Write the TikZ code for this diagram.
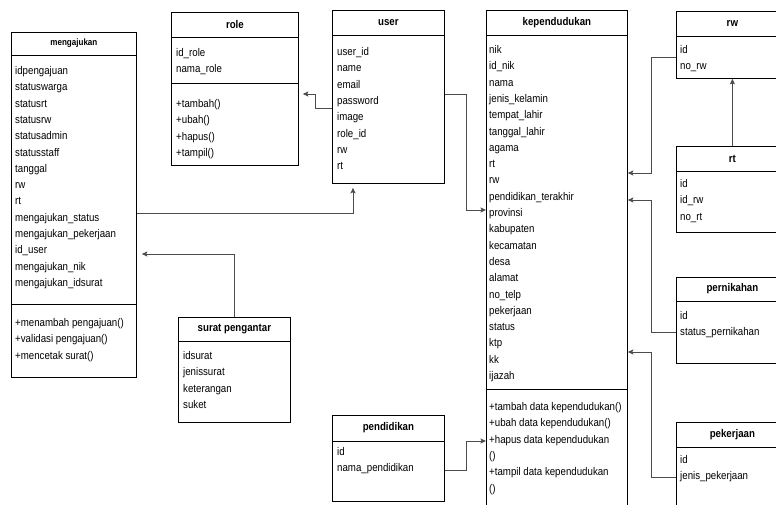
\documentclass[tikz,border=0pt]{standalone}
\usepackage{fontspec}
\setmainfont{Liberation Sans}[FakeStretch=0.87]
\usetikzlibrary{arrows.meta}
\newcommand{\rowfont}{\fontsize{11.15}{16.3}\selectfont}
% one text row after another, 16.3 apart
\newcommand{\classrows}[4]{%
  \foreach \txt [count=\i] in {#4}
    \node[row] (#1-\i) at (#2,{#3+16.3*(\i-1)}) {\txt};}
\begin{document}
\begin{tikzpicture}[x=1pt,y=-1pt,
  box/.style={draw,line width=0.8pt,inner sep=0pt,anchor=north west},
  sep/.style={line width=0.8pt},
  head/.style={inner sep=0pt,font=\rowfont\bfseries},
  row/.style={inner sep=0pt,anchor=base west,font=\rowfont},
  conn/.style={draw=black!70,line width=1pt,-{Stealth[length=5.5pt,width=5pt,inset=1pt]}}]
\useasboundingbox (0,0) rectangle (776,504);
\clip (0,0) rectangle (776,504);
% mengajukan
\node[box,minimum width=125,minimum height=345] (mengajukan) at (11,32) {};
\draw[sep] (mengajukan.west |- 0,55) -- (mengajukan.east |- 0,55);
\draw[sep] (mengajukan.west |- 0,304) -- (mengajukan.east |- 0,304);
\node[head,font=\fontsize{9.25}{11}\bfseries\selectfont] (mengajukan-h) at (mengajukan.north |- 0,43.5) {mengajukan};
\classrows{mengajukan}{15}{74.5}{idpengajuan,statuswarga,statusrt,statusrw,statusadmin,statusstaff,tanggal,rw,rt,mengajukan\_status,mengajukan\_pekerjaan,id\_user,mengajukan\_nik,mengajukan\_idsurat}
\classrows{mengajukan-m}{15}{326.5}{+menambah pengajuan(),+validasi pengajuan(),+mencetak surat()}
% role
\node[box,minimum width=127,minimum height=153] (role) at (171,12) {};
\draw[sep] (role.west |- 0,37) -- (role.east |- 0,37);
\draw[sep] (role.west |- 0,83) -- (role.east |- 0,83);
\node[head] (role-h) at (role.north |- 0,24.5) {role};
\classrows{role}{176}{56.5}{id\_role,nama\_role}
\classrows{role-m}{176}{107.5}{+tambah(),+ubah(),+hapus(),+tampil()}
% user
\node[box,minimum width=112,minimum height=173] (user) at (332,10) {};
\draw[sep] (user.west |- 0,35) -- (user.east |- 0,35);
\node[head] (user-h) at (user.north |- 0,22.5) {user};
\classrows{user}{337}{55.5}{user\_id,name,email,password,image,role\_id,rw,rt}
% kependudukan
\node[box,minimum width=141,minimum height=510] (kependudukan) at (486,10) {};
\draw[sep] (kependudukan.west |- 0,35) -- (kependudukan.east |- 0,35);
\draw[sep] (kependudukan.west |- 0,389) -- (kependudukan.east |- 0,389);
\node[head] (kependudukan-h) at (kependudukan.north |- 0,22.5) {kependudukan};
\classrows{kependudukan}{489}{53.5}{nik,id\_nik,nama,jenis\_kelamin,tempat\_lahir,tanggal\_lahir,agama,rt,rw,pendidikan\_terakhir,provinsi,kabupaten,kecamatan,desa,alamat,no\_telp,pekerjaan,status,ktp,kk,ijazah}
\classrows{kependudukan-m}{489}{410.5}{+tambah data kependudukan(),+ubah data kependudukan(),+hapus data kependudukan,(),+tampil data kependudukan,()}
% rw, rt, pernikahan, pekerjaan
\node[box,minimum width=112,minimum height=67] (rw) at (676,11) {};
\draw[sep] (rw.west |- 0,36) -- (rw.east |- 0,36);
\node[head] (rw-h) at (rw.north |- 0,23.5) {rw};
\classrows{rw}{680}{53.5}{id,no\_rw}
\node[box,minimum width=112,minimum height=86] (rt) at (676,146) {};
\draw[sep] (rt.west |- 0,171) -- (rt.east |- 0,171);
\node[head] (rt-h) at (rt.north |- 0,158.5) {rt};
\classrows{rt}{680}{187.5}{id,id\_rw,no\_rt}
\node[box,minimum width=112,minimum height=86] (pernikahan) at (676,277) {};
\draw[sep] (pernikahan.west |- 0,301) -- (pernikahan.east |- 0,301);
\node[head] (pernikahan-h) at (pernikahan.north |- 0,289) {pernikahan};
\classrows{pernikahan}{680}{319.5}{id,status\_pernikahan}
\node[box,minimum width=112,minimum height=90] (pekerjaan) at (676,422) {};
\draw[sep] (pekerjaan.west |- 0,447) -- (pekerjaan.east |- 0,447);
\node[head] (pekerjaan-h) at (pekerjaan.north |- 0,434.5) {pekerjaan};
\classrows{pekerjaan}{680}{463.5}{id,jenis\_pekerjaan}
% surat pengantar, pendidikan
\node[box,minimum width=112,minimum height=105] (surat) at (178,317) {};
\draw[sep] (surat.west |- 0,341) -- (surat.east |- 0,341);
\node[head] (surat-h) at (surat.north |- 0,329) {surat pengantar};
\classrows{surat}{183}{359.5}{idsurat,jenissurat,keterangan,suket}
\node[box,minimum width=112,minimum height=86] (pendidikan) at (332,415) {};
\draw[sep] (pendidikan.west |- 0,441) -- (pendidikan.east |- 0,441);
\node[head] (pendidikan-h) at (pendidikan.north |- 0,428) {pendidikan};
\classrows{pendidikan}{337}{455.5}{id,nama\_pendidikan}
% connectors
\draw[conn,shorten >=4pt] (user.west |- 0,108) -- ++(-17,0) |- (role.east |- 0,94);
\draw[conn,shorten >=4pt] (mengajukan.east |- 0,213) -| ([xshift=21pt]user.south west);
\draw[conn,shorten >=5pt] (surat.north) |- (mengajukan.east |- 0,254);
\draw[conn] (user.east |- 0,94) -- ++(22,0) |- (kependudukan.west |- 0,210);
\draw[conn] (pendidikan.east |- 0,470) -- ++(22,0) |- (kependudukan.west |- 0,441);
\draw[conn] (rt.north) -- (rw.south);
\draw[conn] (rw.west |- 0,57) -- ++(-25,0) |- (kependudukan.east |- 0,173);
\draw[conn] (pernikahan.west |- 0,332) -- ++(-25,0) |- (kependudukan.east |- 0,200);
\draw[conn] (pekerjaan.west |- 0,477) -- ++(-25,0) |- (kependudukan.east |- 0,352);
\end{tikzpicture}
\end{document}
